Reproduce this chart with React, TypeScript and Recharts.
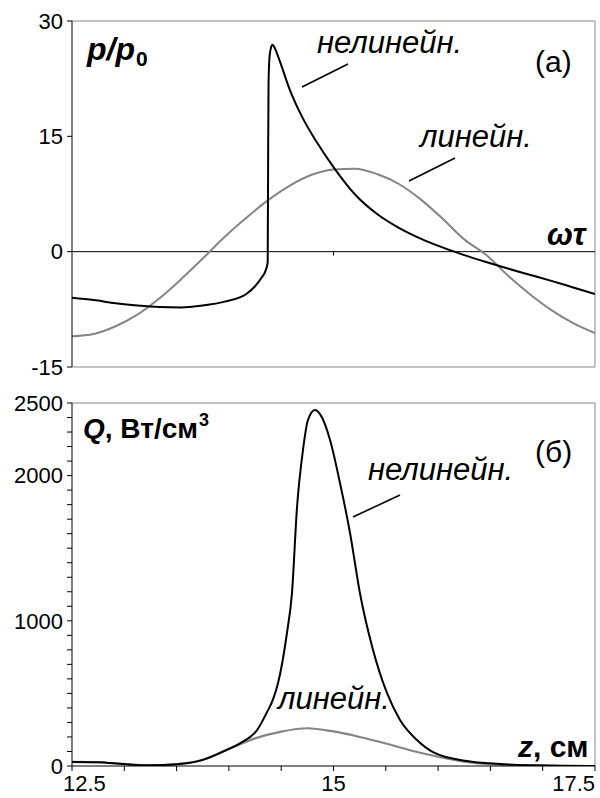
import React from "react";
import { LineChart, Line, XAxis, YAxis, ReferenceLine } from "recharts";

const FONT = "'Liberation Sans', Arial, sans-serif";
const GRAY = "#858585";

// panel (а): pressure p/p0 vs phase ωτ
const phaseGrid = [-3, -2.75, -2.5, -2.25, -2, -1.75, -1.5, -1.25, -1, -0.75, -0.5, -0.25, 0, 0.25, 0.5, 0.75, 1, 1.25, 1.5, 1.75, 2, 2.25, 2.5, 2.75, 3];
const pLinear = [-11.0, -10.7, -9.7, -8.2, -6.1, -3.6, -0.9, 1.9, 4.4, 6.7, 8.6, 10.0, 10.7, 10.8, 10.1, 8.8, 6.8, 4.3, 1.6, -0.4, -3.1, -5.5, -7.6, -9.3, -10.6];

const phaseShock = [-3, -2.75, -2.5, -2.25, -2, -1.75, -1.5, -1.25, -1, -0.9, -0.82, -0.78, -0.755, -0.75, -0.745, -0.735, -0.72, -0.7, -0.67, -0.62, -0.5, -0.35, -0.2, 0, 0.25, 0.5, 0.75, 1, 1.25, 1.5, 1.75, 2, 2.25, 2.5, 2.75, 3];
const pNonlinear = [-6.0, -6.3, -6.7, -7.0, -7.2, -7.25, -7.0, -6.5, -5.5, -4.5, -3.3, -2.5, -1.4, 12, 22, 25.2, 26.4, 26.9, 26.4, 24.9, 21.0, 17.3, 14.4, 11.0, 7.4, 4.9, 3.1, 1.7, 0.55, -0.45, -1.35, -2.2, -3.0, -3.8, -4.65, -5.5];

const pTicks = [-15, 0, 15, 30];

// panel (б): heat release Q vs z
const zGrid = [12.5, 12.75, 13, 13.25, 13.5, 13.75, 14, 14.25, 14.5, 14.75, 15, 15.25, 15.5, 15.75, 16, 16.25, 16.5, 16.75, 17, 17.25, 17.5];
const qLinear = [28, 26, 13, 5, 12, 42, 118, 190, 237, 260, 238, 200, 155, 105, 64, 30, 12, 5, 2, 0, 0];

const zFine = [12.5, 12.75, 13, 13.25, 13.5, 13.75, 14, 14.11, 14.27, 14.36, 14.42, 14.47, 14.555, 14.603, 14.651, 14.708, 14.756, 14.823, 14.89, 14.967, 15.062, 15.158, 15.253, 15.378, 15.511, 15.636, 15.798, 15.951, 16.276, 16.592, 16.907, 17.2, 17.5];
const qNonlinear = [28, 26, 13, 5, 12, 42, 118, 158, 248, 365, 455, 571, 916, 1191, 1780, 2176, 2383, 2452, 2400, 2245, 1949, 1605, 1190, 799, 503, 317, 179, 96, 34, 14, 5, 1, 0];

const zTicks = [12.5, 13, 13.5, 14, 14.5, 15, 15.5, 16, 16.5, 17, 17.5];
const zLabels = [12.5, 15, 17.5];
const qTicks = Array.from({ length: 26 }, (_, i) => i * 100);
const qLabels = [0, 1000, 2000, 2500];

const zip = (xs: number[], ys: number[]) => xs.map((x, i) => ({ x, y: ys[i] }));

const tickStyle = { fill: "#000", fontSize: 22, fontFamily: FONT };

const QTick = (props: any) => {
  const { x, y, payload } = props;
  if (!qLabels.includes(payload.value)) return <g />;
  return (
    <text x={x} y={y} dy="0.355em" textAnchor="end" {...tickStyle}>
      {payload.value}
    </text>
  );
};

const ZTick = (props: any) => {
  const { x, y, payload } = props;
  if (!zLabels.includes(payload.value)) return <g />;
  const v = payload.value;
  const anchor = v === 12.5 ? "start" : v === 17.5 ? "end" : "middle";
  const dx = v === 12.5 ? -9 : 0;
  return (
    <text x={x + dx} y={y} dy="0.71em" textAnchor={anchor} {...tickStyle}>
      {v}
    </text>
  );
};

const Annotations = () => (
  <svg
    width={600}
    height={798}
    style={{ position: "absolute", left: 0, top: 0, pointerEvents: "none" }}
    fontFamily={FONT}
  >
    {/* panel (а) */}
    <text x={87} y={60} fontSize={32} fontWeight="bold" fontStyle="italic">
      p/p
      <tspan fontSize={21} fontStyle="normal" dx={1} dy={6}>0</tspan>
    </text>
    <text x={535} y={72} fontSize={30}>(а)</text>
    <text x={317} y={53} fontSize={31} fontStyle="italic">нелинейн.</text>
    <line x1={302} y1={87} x2={348} y2={64} stroke="#000" strokeWidth={1.6} />
    <text x={420} y={147} fontSize={31} fontStyle="italic">линейн.</text>
    <line x1={409} y1={181} x2={455} y2={158} stroke="#000" strokeWidth={1.6} />
    <text x={547} y={245} fontSize={31} fontWeight="bold" fontStyle="italic">ωτ</text>

    {/* panel (б) */}
    <text x={83} y={438} fontSize={28} fontWeight="bold">
      <tspan fontStyle="italic">Q</tspan>, Вт/см
      <tspan fontSize={18} dx={1} dy={-12}>3</tspan>
    </text>
    <text x={535} y={462} fontSize={30}>(б)</text>
    <text x={368} y={480} fontSize={31} fontStyle="italic">нелинейн.</text>
    <line x1={353} y1={517} x2={400} y2={495} stroke="#000" strokeWidth={1.6} />
    <text x={278} y={709} fontSize={31} fontStyle="italic">линейн.</text>
    <text x={518} y={757} fontSize={30} fontWeight="bold">
      <tspan fontStyle="italic">z</tspan>, см
    </text>
  </svg>
);

export default function App() {
  return (
    <div style={{ position: "absolute", left: 0, top: 0, width: 600, height: 798, background: "#fff" }}>
      <div style={{ position: "absolute", left: 0, top: 0 }}>
        <LineChart width={600} height={390} margin={{ top: 21, right: 5, bottom: 23, left: 12 }}>
          <XAxis type="number" dataKey="x" domain={[-3, 3]} hide allowDataOverflow />
          <YAxis
            type="number"
            domain={[-15, 30]}
            ticks={pTicks}
            width={60}
            tickSize={5}
            tickMargin={4}
            axisLine={{ stroke: "#000" }}
            tickLine={{ stroke: "#000" }}
            tick={tickStyle}
            allowDataOverflow
          />
          <ReferenceLine y={30} stroke={GRAY} />
          <ReferenceLine y={-15} stroke={GRAY} />
          <ReferenceLine x={3} stroke={GRAY} />
          <ReferenceLine y={0} stroke="#000" />
          <ReferenceLine segment={[{ x: 0, y: 0 }, { x: 0, y: -0.5 }]} stroke="#000" />
          <Line
            data={zip(phaseGrid, pLinear)}
            dataKey="y"
            type="monotone"
            stroke={GRAY}
            strokeWidth={2}
            dot={false}
            isAnimationActive={false}
          />
          <Line
            data={zip(phaseShock, pNonlinear)}
            dataKey="y"
            type="monotone"
            stroke="#000"
            strokeWidth={2}
            dot={false}
            isAnimationActive={false}
          />
        </LineChart>
      </div>
      <div style={{ position: "absolute", left: 0, top: 390 }}>
        <LineChart width={600} height={408} margin={{ top: 13, right: 5, bottom: 2, left: 12 }}>
          <XAxis
            type="number"
            dataKey="x"
            domain={[12.5, 17.5]}
            ticks={zTicks}
            height={30}
            tickSize={5}
            tickMargin={4}
            axisLine={{ stroke: "#000" }}
            tickLine={{ stroke: "#000" }}
            tick={<ZTick />}
            interval={0}
            allowDataOverflow
          />
          <YAxis
            type="number"
            domain={[0, 2500]}
            ticks={qTicks}
            width={60}
            tickSize={5}
            tickMargin={4}
            axisLine={{ stroke: "#000" }}
            tickLine={{ stroke: "#000" }}
            tick={<QTick />}
            interval={0}
            allowDataOverflow
          />
          <ReferenceLine y={2500} stroke={GRAY} />
          <ReferenceLine x={17.5} stroke={GRAY} />
          <Line
            data={zip(zGrid, qLinear)}
            dataKey="y"
            type="monotone"
            stroke={GRAY}
            strokeWidth={2.2}
            dot={false}
            isAnimationActive={false}
          />
          <Line
            data={zip(zFine, qNonlinear)}
            dataKey="y"
            type="monotone"
            stroke="#000"
            strokeWidth={2}
            dot={false}
            isAnimationActive={false}
          />
        </LineChart>
      </div>
      <Annotations />
    </div>
  );
}
